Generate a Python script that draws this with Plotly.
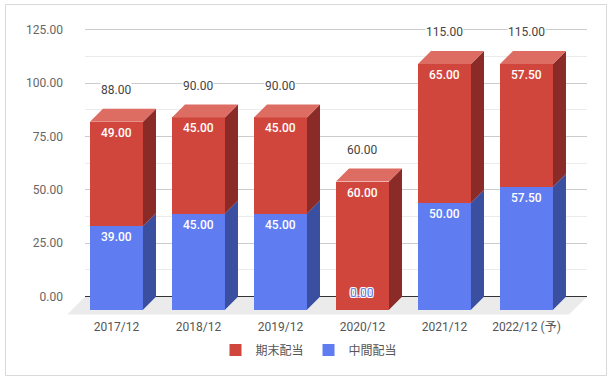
import plotly.graph_objects as go

# ---- data ----
categories = ["2017/12", "2018/12", "2019/12", "2020/12", "2021/12", "2022/12 (予)"]
interim = [39.0, 45.0, 45.0, 0.0, 50.0, 57.5]      # 中間配当
final = [49.0, 45.0, 45.0, 60.0, 65.0, 57.5]       # 期末配当
totals = [a + b for a, b in zip(interim, final)]
y_ticks = [0, 25, 50, 75, 100, 125]

# ---- style / geometry ----
RED_FRONT, RED_TOP, RED_SIDE = "#D1463C", "#DD6C62", "#8A2B27"
BLUE_FRONT, BLUE_SIDE = "#5F7CF0", "#3B4FA1"
FONT = "Roboto, 'Noto Sans CJK JP', sans-serif"

W, H = 612, 382
ML, MR, MT, MB = 85, 25, 19, 64
PW, PH = W - ML - MR, H - MT - MB
XR = [-0.384, 5.738]
YR = [-10, 130]
PXX = PW / (XR[1] - XR[0])
PXY = PH / (YR[1] - YR[0])
BW = 53 / PXX            # bar width in category units
OX = 13 / PXX            # depth offset (x)
OY = 13 / PXY            # depth offset (y)

xs = list(range(len(categories)))


def poly_trace(polys, color):
    px, py = [], []
    for p in polys:
        for (a, b) in p:
            px.append(a)
            py.append(b)
        px.append(p[0][0]); py.append(p[0][1])
        px.append(None); py.append(None)
    return go.Scatter(x=px, y=py, mode="lines", fill="toself", fillcolor=color,
                      line=dict(width=0, color=color), hoverinfo="skip",
                      showlegend=False)


fig = go.Figure()

# side faces + top faces
blue_sides, red_sides, red_tops = [], [], []
for x, a, t in zip(xs, interim, totals):
    r = x + BW / 2
    l = x - BW / 2
    if a > 0:
        blue_sides.append([(r, -OY), (r + OX, 0), (r + OX, a), (r, a - OY)])
    red_sides.append([(r, a - OY), (r + OX, a), (r + OX, t), (r, t - OY)])
    red_tops.append([(l, t - OY), (l + OX, t), (r + OX, t), (r, t - OY)])

fig.add_trace(poly_trace(blue_sides, BLUE_SIDE))
fig.add_trace(poly_trace(red_sides, RED_SIDE))
fig.add_trace(poly_trace(red_tops, RED_TOP))

# front faces
fig.add_trace(go.Bar(x=xs, y=final, base=[a - OY for a in interim], width=BW,
                     name="期末配当", marker=dict(color=RED_FRONT, line=dict(width=0)),
                     hoverinfo="skip", legendrank=1))
fig.add_trace(go.Bar(x=xs, y=interim, base=[-OY] * len(xs), width=BW,
                     name="中間配当", marker=dict(color=BLUE_FRONT, line=dict(width=0)),
                     hoverinfo="skip", legendrank=2))

annotations = []
for x, a, b, t in zip(xs, interim, final, totals):
    # segment labels
    annotations.append(dict(x=x, y=t - OY, xref="x", yref="y", text=f"{b:.2f}",
                            showarrow=False, yshift=-11,
                            font=dict(family=FONT, size=12, color="white", weight=500)))
    if a > 0:
        annotations.append(dict(x=x, y=a - OY, xref="x", yref="y", text=f"{a:.2f}",
                                showarrow=False, yshift=-11,
                                font=dict(family=FONT, size=12, color="white", weight=500)))
    else:
        annotations.append(dict(x=x, y=a - OY, xref="x", yref="y", text=f"{a:.2f}",
                                showarrow=False, yshift=17,
                                font=dict(family=FONT, size=12, color=BLUE_FRONT,
                                          shadow="-1px -1px 0 #fff, 1px -1px 0 #fff, -1px 1px 0 #fff, 1px 1px 0 #fff")))
    # total labels
    annotations.append(dict(x=x, y=t, xref="x", yref="y", text=f"{t:.2f}",
                            showarrow=False, yshift=18.6, bgcolor="white", borderpad=0,
                            font=dict(family=FONT, size=12, color="#444444")))


def to_paper_y(v):
    return (v - YR[0]) / (YR[1] - YR[0])


# floor
fdx = 18 / PW
fy0 = to_paper_y(0)
fy1 = to_paper_y(-8.4)
shapes = [
    dict(type="path", xref="paper", yref="paper", layer="below",
         path=f"M0,{fy0} L1,{fy0} L{1 - fdx},{fy1} L{-fdx},{fy1} Z",
         fillcolor="#EBEBEB", line=dict(width=0)),
    # chart border
    dict(type="rect", xref="paper", yref="paper", layer="below",
         x0=(5.5 - ML) / PW, x1=(606.5 - ML) / PW,
         y0=(MT + PH - 375.5) / PH, y1=(MT + PH - 4.5) / PH,
         line=dict(color="#D9D9D9", width=1), fillcolor="rgba(0,0,0,0)"),
]

fig.update_layout(
    width=W, height=H, autosize=False,
    margin=dict(l=ML, r=MR, t=MT, b=MB, autoexpand=False),
    paper_bgcolor="white", plot_bgcolor="white",
    barmode="overlay", bargap=0,
    font=dict(family=FONT, size=12, color="#555555"),
    annotations=annotations, shapes=shapes,
    showlegend=True,
    legend=dict(orientation="h", x=(309 - ML) / PW, xanchor="center",
                y=(MT + PH - 350) / PH, yanchor="middle",
                font=dict(family=FONT, size=12, color="#555555"),
                itemclick=False, bgcolor="rgba(0,0,0,0)"),
    xaxis=dict(range=XR, tickvals=xs, ticktext=categories, showgrid=False,
               zeroline=False, showline=False, ticks="", fixedrange=True,
               automargin=False, tickangle=0,
               tickfont=dict(family=FONT, size=12, color="#555555")),
    yaxis=dict(range=YR, tickvals=y_ticks, tickformat=".2f", showgrid=True,
               gridcolor="#CCCCCC", gridwidth=1, zeroline=True,
               zerolinecolor="#333333", zerolinewidth=1, showline=False,
               ticks="", ticklabelstandoff=21, fixedrange=True, automargin=False,
               minor=dict(tick0=0, dtick=12.5, showgrid=True, gridcolor="#EBEBEB"),
               tickfont=dict(family=FONT, size=12, color="#666666")),
)

fig.write_html("out.html", config={"displayModeBar": False},
               post_script="document.body.style.margin='0px';document.body.style.overflow='hidden';")
